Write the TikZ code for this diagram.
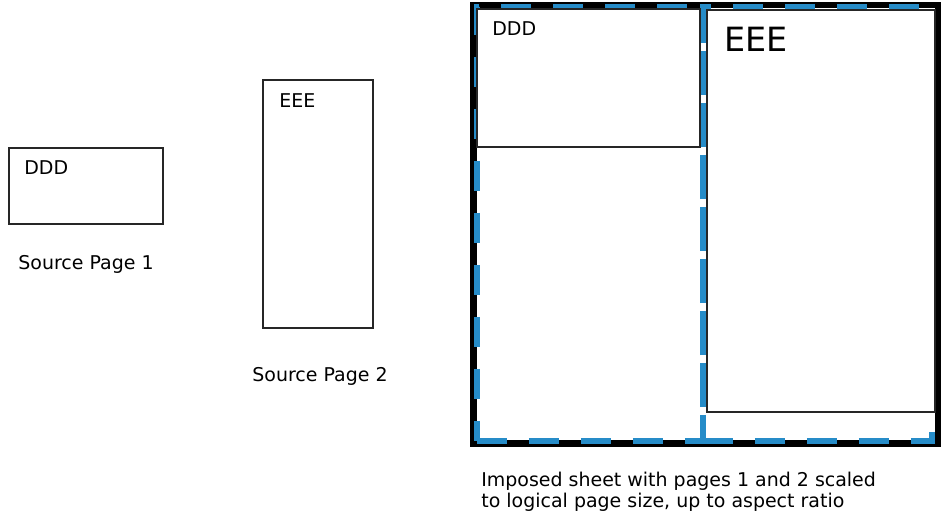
\documentclass[tikz,border=0pt]{standalone}
\usepackage{fontspec}
\setmainfont{DejaVu Sans}
\usetikzlibrary{fit,positioning}

\definecolor{cellblue}{RGB}{38,140,200}

\tikzset{
  page/.style={draw=black!85, fill=white, line width=0.8pt, inner sep=0pt},
  sheet/.style={draw=black, line width=3.6pt, inner sep=0pt},
  cell/.style={draw=cellblue, line width=3.2pt, inner sep=0pt,
               dash pattern=on 0.6cm off 0.44cm},
  lbl/.style={font=\fontsize{10.8}{13}\selectfont, anchor=base west, inner sep=0pt},
}

\begin{document}
\begin{tikzpicture}[x=0.02cm, y=-0.02cm]
\useasboundingbox (0,0) rectangle (941,520);

% source pages
\node[page, fit={(9,148) (163,224)}] (src1) {};
\node[lbl] (src1txt) at (24,175) {DDD};
\node[lbl] (src1cap) at (18,270) {Source Page 1};

\node[page, fit={(263,80) (373,328)}] (src2) {};
\node[lbl] (src2txt) at (279,108) {EEE};
\node[lbl] (src2cap) at (252,382) {Source Page 2};

% imposed sheet, logical page cells underneath the scaled pages
\node[sheet, fit={(473.5,5) (938,443.5)}] (imp) {};
\node[cell, fit={(477,7) (703,441)}] (cellA) {};
\node[cell, fit={(703,7) (932,441)}] (cellB) {};

\node[page, fit={(477,9) (700,147)}] (imp1) {};
\node[lbl] (imp1txt) at (492,36) {DDD};
\node[page, fit={(707,10) (935,412)}] (imp2) {};
\node[lbl, font=\fontsize{19}{23}\selectfont] (imp2txt) at (724,52) {EEE};

\node[lbl] (cap1) at (481,487) {Imposed sheet with pages 1 and 2 scaled};
\node[lbl] (cap2) at (481,508) {to logical page size, up to aspect ratio};
\end{tikzpicture}
\end{document}
